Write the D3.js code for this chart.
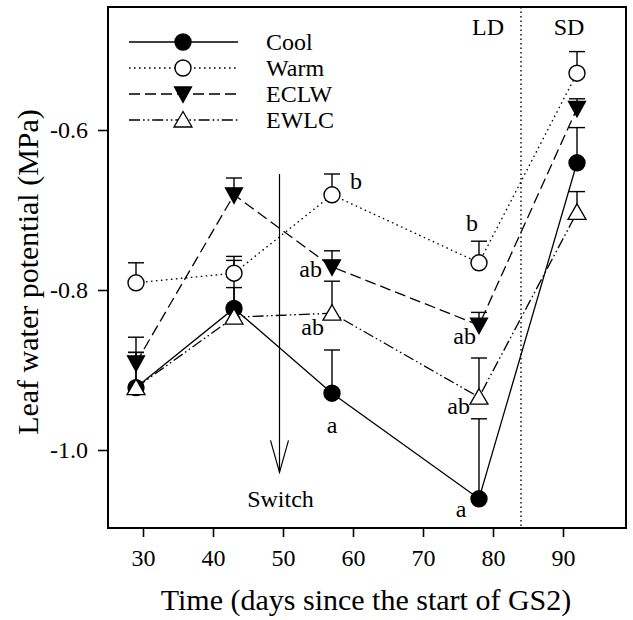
<!DOCTYPE html>
<html><head><meta charset="utf-8">
<script src="https://cdn.jsdelivr.net/npm/d3@7"></script>
<style>html,body{margin:0;padding:0;background:#fff}svg{display:block}text{font-family:"Liberation Serif","Times New Roman",serif;fill:#000}</style>
</head><body>
<svg id="c" width="633" height="620"></svg>
<script>
const days = [29, 43, 57, 78, 92];
const seriesNames = ["Cool", "Warm", "ECLW", "EWLC"];
const coolVals = [-0.922, -0.823, -0.929, -1.061, -0.641];
const coolErr  = [0.044, 0.026, 0.054, 0.100, 0.044];
const warmVals = [-0.791, -0.779, -0.681, -0.766, -0.529];
const warmErr  = [0.025, 0.021, 0.026, 0.027, 0.027];
const eclwVals = [-0.891, -0.681, -0.771, -0.844, -0.573];
const eclwErr  = [0.032, 0.021, 0.020, 0.016, 0.012];
const ewlcVals = [-0.922, -0.834, -0.829, -0.934, -0.703];
const ewlcErr  = [0.044, 0.071, 0.040, 0.049, 0.026];
const xTicks = [30, 40, 50, 60, 70, 80, 90];
const yTicks = [-1.0, -0.8, -0.6];
const yTickLabels = ["-1.0", "-0.8", "-0.6"];
// significance letters: series index, day index, text
const letters = [
  {s: 1, i: 2, t: "b"}, {s: 2, i: 2, t: "ab"}, {s: 3, i: 2, t: "ab"}, {s: 0, i: 2, t: "a"},
  {s: 1, i: 3, t: "b"}, {s: 2, i: 3, t: "ab"}, {s: 3, i: 3, t: "ab"}, {s: 0, i: 3, t: "a"}
];
const switchDay = 49.5, switchFrom = -0.655, switchTo = -1.028;
const photoperiodDay = 84;

const svg = d3.select("#c");
const x = d3.scaleLinear().domain([25, 99]).range([108, 626]);
const y = d3.scaleLinear().domain([-1.0975, -0.44625]).range([528, 7]);

const series = [
  {name: "Cool", vals: coolVals, err: coolErr, dash: null, marker: "circle", fill: "#000"},
  {name: "Warm", vals: warmVals, err: warmErr, dash: "1.6,3.4", marker: "circle", fill: "#fff"},
  {name: "ECLW", vals: eclwVals, err: eclwErr, dash: "11,5", marker: "tdown", fill: "#000"},
  {name: "EWLC", vals: ewlcVals, err: ewlcErr, dash: "11,3,1.6,3,1.6,3", marker: "tup", fill: "#fff"}
];

function marker(g, type, fill) {
  if (type === "circle") return g.append("circle").attr("r", 8).attr("fill", fill).attr("stroke", "#000").attr("stroke-width", 1.4);
  if (type === "tdown") return g.append("path").attr("d", "M-8.5,-7L8.5,-7L0,8.5Z").attr("fill", fill).attr("stroke", "#000").attr("stroke-width", 1.3);
  return g.append("path").attr("d", "M0,-8.5L-9,7L9,7Z").attr("fill", fill).attr("stroke", "#000").attr("stroke-width", 1.3);
}

// vertical photoperiod line
svg.append("line").attr("x1", x(photoperiodDay)).attr("x2", x(photoperiodDay))
  .attr("y1", y.range()[1]).attr("y2", y.range()[0])
  .attr("stroke", "#000").attr("stroke-width", 1.4).attr("stroke-dasharray", "1.5,3");

// switch arrow
const sx = x(switchDay);
svg.append("line").attr("x1", sx).attr("x2", sx).attr("y1", y(switchFrom)).attr("y2", y(switchTo))
  .attr("stroke", "#000").attr("stroke-width", 1.2);
svg.append("path").attr("d", `M${sx-9},${y(switchTo)-32}L${sx},${y(switchTo)}L${sx+9},${y(switchTo)-32}`)
  .attr("fill", "none").attr("stroke", "#000").attr("stroke-width", 1.2);
svg.append("text").attr("x", sx + 1).attr("y", y(switchTo) + 35).attr("text-anchor", "middle")
  .attr("font-size", 24).text("Switch");

// error bars
series.forEach(s => {
  days.forEach((d, i) => {
    const cx = x(d), y0 = y(s.vals[i]), y1 = y(s.vals[i] + s.err[i]);
    svg.append("line").attr("x1", cx).attr("x2", cx).attr("y1", y0).attr("y2", y1).attr("stroke", "#000").attr("stroke-width", 1.4);
    svg.append("line").attr("x1", cx - 8).attr("x2", cx + 8).attr("y1", y1).attr("y2", y1).attr("stroke", "#000").attr("stroke-width", 1.4);
  });
});

// lines
const lineGen = d3.line().x((d, i) => x(days[i])).y(d => y(d));
series.forEach(s => {
  svg.append("path").attr("d", lineGen(s.vals)).attr("fill", "none").attr("stroke", "#000")
    .attr("stroke-width", 1.3).attr("stroke-dasharray", s.dash);
});

// markers
series.forEach(s => {
  days.forEach((d, i) => {
    const g = svg.append("g").attr("transform", `translate(${x(d)},${y(s.vals[i])})`);
    marker(g, s.marker, s.fill);
  });
});

// letters
const letterOffsets = {
  "1-2": [24, -6, "middle"], "2-2": [-10, 10, "end"], "3-2": [-8, 22, "end"], "0-2": [0, 40, "middle"],
  "1-3": [-7, -32, "middle"], "2-3": [-3, 19, "end"], "3-3": [-9, 17, "end"], "0-3": [-18, 18, "middle"]
};
letters.forEach(l => {
  const o = letterOffsets[l.s + "-" + l.i];
  svg.append("text").attr("x", x(days[l.i]) + o[0]).attr("y", y(series[l.s].vals[l.i]) + o[1])
    .attr("text-anchor", o[2]).attr("font-size", 24).text(l.t);
});

// LD / SD
svg.append("text").attr("x", 488).attr("y", 35).attr("text-anchor", "middle").attr("font-size", 24).text("LD");
svg.append("text").attr("x", 569).attr("y", 35).attr("text-anchor", "middle").attr("font-size", 24).text("SD");

// frame
svg.append("rect").attr("x", 108).attr("y", 7).attr("width", 518).attr("height", 521)
  .attr("fill", "none").attr("stroke", "#000").attr("stroke-width", 2);

// axes
const xAxis = d3.axisBottom(x).tickValues(xTicks).tickSize(9).tickPadding(12).tickFormat(d3.format("d"));
const gx = svg.append("g").attr("transform", "translate(0,528)").call(xAxis);
gx.select(".domain").remove();
gx.selectAll("line").attr("stroke-width", 1.6);
gx.selectAll("text").attr("font-size", 24).attr("font-family", "Liberation Serif");
const yAxis = d3.axisLeft(y).tickValues(yTicks).tickSize(10).tickPadding(10).tickFormat((d, i) => yTickLabels[i]);
const gy = svg.append("g").attr("transform", "translate(108,0)").call(yAxis);
gy.select(".domain").remove();
gy.selectAll("line").attr("stroke-width", 1.6);
gy.selectAll("text").attr("font-size", 24).attr("font-family", "Liberation Serif");

svg.append("text").attr("x", 366).attr("y", 610).attr("text-anchor", "middle").attr("font-size", 30)
  .text("Time (days since the start of GS2)");
svg.append("text").attr("transform", "translate(38,272) rotate(-90)").attr("text-anchor", "middle")
  .attr("font-size", 30).text("Leaf water potential (MPa)");

// legend
const legY = [42, 68, 94, 120];
series.forEach((s, k) => {
  svg.append("line").attr("x1", 129).attr("x2", 238).attr("y1", legY[k]).attr("y2", legY[k])
    .attr("stroke", "#000").attr("stroke-width", 1.3).attr("stroke-dasharray", s.dash);
  const g = svg.append("g").attr("transform", `translate(183,${legY[k]})`);
  marker(g, s.marker, s.fill);
  svg.append("text").attr("x", 266).attr("y", legY[k] + 8).attr("font-size", 24).text(seriesNames[k]);
});
</script>
</body></html>
